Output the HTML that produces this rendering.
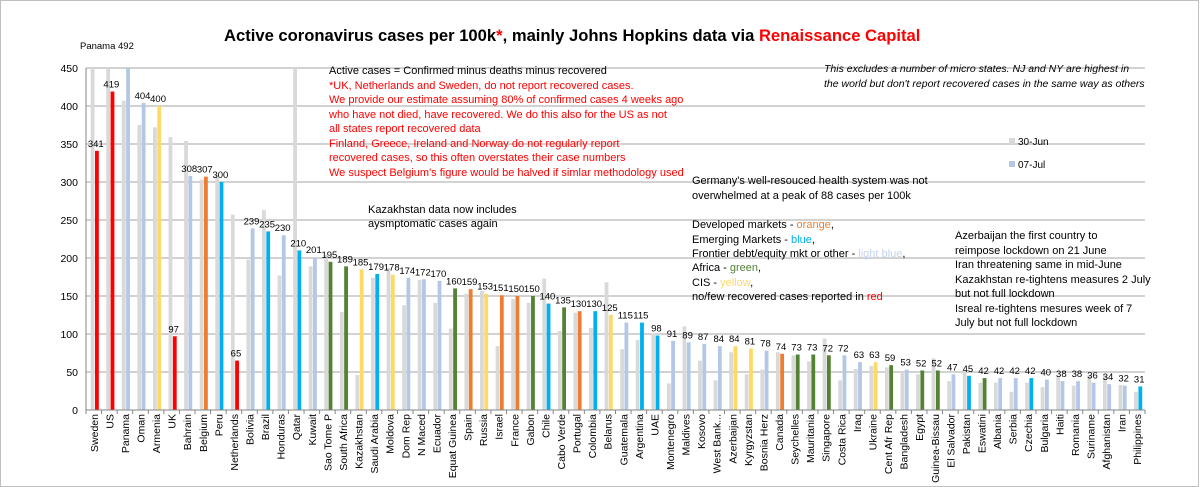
<!DOCTYPE html>
<html><head><meta charset="utf-8">
<style>
html,body{margin:0;padding:0;background:#fff;}
svg{display:block;font-family:"Liberation Sans",sans-serif;}
</style></head>
<body>
<svg id="chart" width="1200" height="487" viewBox="0 0 1200 487">
<rect x="0.5" y="0.5" width="1198" height="486" fill="#fff" stroke="#bfbfbf"/>
<text x="224" y="41" font-size="16.6" font-weight="bold" fill="#000">Active coronavirus cases per 100k<tspan fill="#ff0000">*</tspan>, mainly Johns Hopkins data via <tspan fill="#ff0000">Renaissance Capital</tspan></text>
<text x="80" y="49" font-size="9.5" fill="#000">Panama 492</text>
<g id="grid"></g>
<g id="yaxis"></g>
<g id="bars"></g>
<g id="vlabels"></g>
<g id="xaxis"></g>

<g font-size="11">
<text x="329" y="74" fill="#000">Active cases = Confirmed minus deaths minus recovered</text>
<g fill="#ff0000">
<text x="329" y="89">*UK, Netherlands  and Sweden, do not report recovered cases.</text>
<text x="329" y="103">We provide our estimate assuming 80% of confirmed cases 4 weeks ago</text>
<text x="329" y="118">who have not died, have recovered. We do this also for the US as  not</text>
<text x="329" y="132"> all states report recovered data</text>
<text x="329" y="147">Finland, Greece, Ireland and Norway do not regularly report</text>
<text x="329" y="161">recovered cases, so this often overstates their case numbers</text>
<text x="329" y="176">We suspect Belgium's figure would be halved if simlar methodology  used</text>
</g></g>
<g font-size="10.5" font-style="italic" fill="#000">
<text x="824" y="72">This excludes a number of micro states. NJ  and NY are highest in</text>
<text x="824" y="87">the world  but don't report recovered cases in the same way as others</text>
</g>
<g font-size="10" fill="#000">
<g><rect x="1009" y="138" width="6" height="6" fill="#d9d9d9"/><text x="1018" y="145">30-Jun</text></g>
<g><rect x="1009" y="161" width="6" height="6" fill="#b4c7e7"/><text x="1018" y="168">07-Jul</text></g>
</g>
<g font-size="11" fill="#000">
<text x="368" y="213">Kazakhstan data now includes</text>
<text x="368" y="227">aysmptomatic cases again</text>
</g>
<g font-size="11" fill="#000">
<text x="692" y="184">Germany's well-resouced health system was not</text>
<text x="692" y="199">overwhelmed at a peak of 88 cases per 100k</text>
<text x="692" y="228">Developed markets - <tspan fill="#ed7d31">orange</tspan>,</text>
<text x="692" y="243">Emerging Markets -  <tspan fill="#00b0f0">blue</tspan>,</text>
<text x="692" y="257">Frontier debt/equity mkt or other - <tspan fill="#c5d5ee">light blue</tspan>,</text>
<text x="692" y="271">Africa - <tspan fill="#548235">green</tspan>,</text>
<text x="692" y="286">CIS - <tspan fill="#ffd966">yellow</tspan>,</text>
<text x="692" y="300">no/few recovered cases reported in <tspan fill="#ff0000">red</tspan></text>
</g>
<g font-size="11" fill="#000">
<text x="955" y="239">Azerbaijan the first country to</text>
<text x="955" y="254">reimpose lockdown on 21 June</text>
<text x="955" y="268">Iran threatening same in mid-June</text>
<text x="955" y="283">Kazakhstan re-tightens measures 2 July</text>
<text x="955" y="297">but not full lockdown</text>
<text x="955" y="312">Isreal re-tightens mesures week of 7</text>
<text x="955" y="326">July but not full lockdown</text>
</g>
</svg>
<script>
const categories = ["Sweden","US","Panama","Oman","Armenia","UK","Bahrain","Belgium","Peru","Netherlands","Bolivia","Brazil","Honduras","Qatar","Kuwait","Sao Tome P","South Africa","Kazakhstan","Saudi Arabia","Moldova","Dom Rep","N Maced","Ecuador","Equat Guinea","Spain","Russia","Israel","France","Gabon","Chile","Cabo Verde","Portugal","Colombia","Belarus","Guatemala","Argentina","UAE","Montenegro","Maldives","Kosovo","West Bank...","Azerbaijan","Kyrgyzstan","Bosnia Herz","Canada","Seychelles","Mauritania","Singapore","Costa Rica","Iraq","Ukraine","Cent Afr Rep","Bangladesh","Egypt","Guinea-Bissau","El Salvador","Pakistan","Eswatini","Albania","Serbia","Czechia","Bulgaria","Haiti","Romania","Suriname","Afghanistan","Iran","Philippines"];
const jun30 = [460,460,407,375,372,359,354,303,309,257,198,263,177,460,189,204,129,46,174,187,138,171,141,107,153,157,84,146,141,173,104,128,108,168,80,92,101,35,110,65,39,76,47,53,76,72,64,94,39,54,58,56,50,47,68,38,52,36,36,24,36,30,44,32,46,46,33,24];
const jul07 = [341,419,492,404,400,97,308,307,300,65,239,235,230,210,201,195,189,185,179,178,174,172,170,160,159,153,151,150,150,140,135,130,130,125,115,115,98,91,89,87,84,84,81,78,74,73,73,72,72,63,63,59,53,52,52,47,45,42,42,42,42,40,38,38,36,34,32,31];
const groups = ["red","red","lb","lb","cis","red","lb","dm","em","red","lb","em","lb","em","lb","af","af","cis","em","cis","lb","lb","lb","af","dm","cis","dm","dm","af","em","af","dm","em","cis","lb","em","em","lb","lb","lb","lb","cis","cis","lb","dm","af","af","af","lb","lb","cis","af","lb","af","af","lb","em","af","lb","lb","em","lb","lb","lb","lb","lb","lb","em"];
const yTicks = [0,50,100,150,200,250,300,350,400,450];

const colorOf = {red:"#ff0000",lb:"#b4c7e7",cis:"#ffd966",dm:"#ed7d31",em:"#00b0f0",af:"#548235"};
const NS="http://www.w3.org/2000/svg";
const X0=86, X1=1145, Y0=410, Y1=68, YMAX=450;
const cw=(X1-X0)/categories.length;
const y=v=>Y0-Math.min(v,YMAX)/YMAX*(Y0-Y1);
const xc=i=>X0+i*cw;
function mk(tag,attrs,parent){const e=document.createElementNS(NS,tag);for(const k in attrs)e.setAttribute(k,attrs[k]);parent.appendChild(e);return e;}
const grid=document.getElementById('grid'),yax=document.getElementById('yaxis'),bars=document.getElementById('bars'),vl=document.getElementById('vlabels'),xax=document.getElementById('xaxis');
yTicks.forEach(t=>{
  if(t>0){const l=mk('line',{x1:X0,x2:X1,y1:y(t),y2:y(t),stroke:'#a6a6a6','stroke-width':1},grid);
  
  }
  const tx=mk('text',{x:78,y:y(t)+4,'font-size':10.5,'text-anchor':'end',fill:'#000'},yax);
  tx.textContent=t;
  
  
});
mk('line',{x1:X0,x2:X0,y1:Y1,y2:Y0,stroke:'#868686'},yax);
mk('line',{x1:X0,x2:X1,y1:Y0,y2:Y0,stroke:'#868686'},xax);
categories.forEach((c,i)=>{
  const g=mk('rect',{x:xc(i)+4.7,y:y(jun30[i]),width:3.8,height:Y0-y(jun30[i]),fill:'#d9d9d9'},bars);
  
  
  const b=mk('rect',{x:xc(i)+9,y:y(jul07[i]),width:3.8,height:Y0-y(jul07[i]),fill:colorOf[groups[i]]},bars);
  
  
  if(jul07[i]<=YMAX){
    const t=mk('text',{x:xc(i)+cw/2+2,y:y(jul07[i])-4,'font-size':9.5,'text-anchor':'middle',fill:'#000'},vl);
    t.textContent=jul07[i];
    
    
  }
  mk('line',{x1:xc(i),x2:xc(i),y1:Y0,y2:Y0+4,stroke:'#868686'},xax);
  const cx=xc(i)+cw/2+4;
  const lt=mk('text',{x:cx,y:414,'font-size':10.5,'text-anchor':'end',fill:'#000',transform:`rotate(-90 ${cx} 414)`},xax);
  lt.textContent=c;
  
  
});
mk('line',{x1:X1,x2:X1,y1:Y0,y2:Y0+4,stroke:'#868686'},xax);
</script>
</body></html>
